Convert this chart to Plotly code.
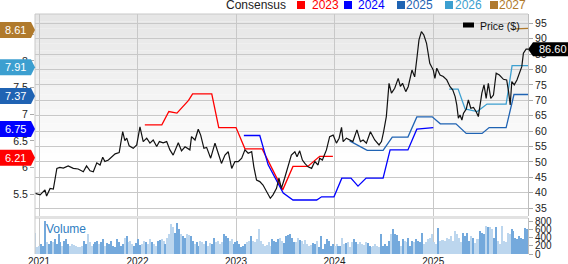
import plotly.graph_objects as go
import pandas as pd
import numpy as np

# ---------------- data ----------------
price_dates = [
    "2020-12-18", "2021-01-05", "2021-01-23", "2021-01-29", "2021-02-11", "2021-02-23", "2021-03-08", "2021-03-19",
    "2021-04-01", "2021-04-19", "2021-05-08", "2021-05-26", "2021-06-14", "2021-06-26", "2021-07-09", "2021-07-21",
    "2021-08-03", "2021-08-15", "2021-08-25", "2021-09-02", "2021-09-15", "2021-10-10", "2021-10-25", "2021-11-07",
    "2021-11-15", "2021-11-22", "2021-12-01", "2021-12-16", "2021-12-29", "2022-01-10", "2022-01-22", "2022-02-04",
    "2022-02-16", "2022-02-28", "2022-03-13", "2022-03-23", "2022-04-06", "2022-04-19", "2022-05-01", "2022-05-13",
    "2022-06-01", "2022-06-13", "2022-06-26", "2022-07-14", "2022-07-20", "2022-08-02", "2022-08-14", "2022-08-23",
    "2022-09-04", "2022-09-14", "2022-09-29", "2022-10-15", "2022-10-27", "2022-11-08", "2022-11-21", "2022-12-03",
    "2022-12-16", "2022-12-28", "2023-01-09", "2023-01-22", "2023-02-03", "2023-02-15", "2023-02-28", "2023-03-08",
    "2023-03-18", "2023-03-30", "2023-04-11", "2023-04-21", "2023-04-30", "2023-05-08", "2023-05-18", "2023-05-31",
    "2023-06-09", "2023-06-18", "2023-06-30", "2023-07-13", "2023-07-25", "2023-08-07", "2023-08-15", "2023-08-25",
    "2023-09-04", "2023-09-13", "2023-09-25", "2023-10-08", "2023-10-20", "2023-11-01", "2023-11-07", "2023-11-17",
    "2023-12-02", "2023-12-14", "2023-12-27", "2024-01-08", "2024-01-18", "2024-01-27", "2024-02-02", "2024-02-14",
    "2024-02-26", "2024-03-09", "2024-03-24", "2024-04-06", "2024-04-16", "2024-04-28", "2024-05-13", "2024-05-29",
    "2024-06-14", "2024-06-23", "2024-07-01", "2024-07-11", "2024-07-21", "2024-07-30", "2024-08-11", "2024-08-24",
    "2024-09-01", "2024-09-09", "2024-09-21", "2024-09-30", "2024-10-14", "2024-10-24", "2024-11-02", "2024-11-09",
    "2024-11-18", "2024-11-27", "2024-12-07", "2024-12-19", "2025-01-01", "2025-01-07", "2025-01-14", "2025-01-26",
    "2025-02-07", "2025-02-20", "2025-03-04", "2025-03-14", "2025-03-23", "2025-03-29", "2025-04-04", "2025-04-10",
    "2025-04-17", "2025-04-23", "2025-05-03", "2025-05-11", "2025-05-20", "2025-05-30", "2025-06-09", "2025-06-17",
    "2025-06-30", "2025-07-08", "2025-07-16", "2025-07-24", "2025-08-02", "2025-08-12", "2025-08-22", "2025-09-03",
    "2025-09-18", "2025-09-30", "2025-10-07", "2025-10-13", "2025-10-19", "2025-10-28", "2025-11-07", "2025-11-17",
    "2025-11-25", "2025-12-01", "2025-12-11", "2025-12-18",
]
price_vals = [
    39.8, 39.3, 40.9, 38.9, 41.4, 41.2, 47.9, 48.2,
    48.0, 48.7, 47.9, 47.7, 46.8, 48.7, 47.1, 46.8,
    49.7, 49.0, 51.5, 50.1, 50.6, 52.6, 53.0, 59.8,
    56.9, 57.7, 55.2, 54.4, 55.5, 61.4, 56.6, 57.7,
    56.1, 57.1, 55.0, 56.6, 56.2, 56.6, 53.9, 52.2,
    56.2, 53.6, 54.9, 53.9, 58.2, 57.1, 60.6, 58.7,
    54.4, 54.7, 51.2, 56.1, 52.8, 49.5, 52.2, 53.3,
    47.9, 50.1, 50.1, 51.2, 53.9, 52.8, 53.3, 48.4,
    44.1, 43.6, 42.5, 40.9, 39.8, 38.2, 39.3, 41.4,
    44.7, 41.4, 44.7, 48.4, 52.2, 53.3, 51.7, 53.6,
    50.6, 49.5, 48.4, 47.9, 50.1, 49.0, 51.2, 50.6,
    53.9, 58.2, 58.7, 56.1, 57.7, 61.2, 56.6, 57.7,
    57.1, 56.6, 60.4, 56.6, 57.1, 56.1, 59.8, 57.1,
    55.5, 56.6, 59.8, 64.7, 75.5, 72.3, 73.9, 77.1,
    74.5, 75.5, 72.8, 74.4, 79.8, 77.6, 84.2, 89.6,
    92.3, 91.2, 88.5, 82.0, 79.8, 77.1, 80.4, 78.2,
    77.7, 76.6, 74.4, 73.4, 71.2, 68.5, 64.2, 65.2,
    63.6, 65.8, 67.1, 70.1, 67.4, 67.7, 66.3, 64.7,
    72.3, 75.0, 70.6, 75.5, 70.6, 71.7, 78.8, 78.2,
    76.8, 76.6, 72.8, 68.5, 76.1, 75.0, 76.6, 79.3,
    80.9, 85.3, 86.6, 86.6,
]

c2023_dates = ["2022-01-28", "2022-04-01", "2022-04-27", "2022-05-27", "2022-07-09", "2022-07-24", "2022-10-03",
               "2022-10-29", "2023-01-01", "2023-02-03", "2023-04-08", "2023-06-23", "2023-07-31", "2023-09-24",
               "2023-11-07", "2023-12-26"]
c2023_vals = [6.80, 6.80, 7.05, 7.02, 7.26, 7.38, 7.38, 6.75, 6.75, 6.35, 6.35, 5.58, 6.02, 6.02, 6.21, 6.21]

c2024_dates = ["2023-01-30", "2023-03-30", "2023-04-30", "2023-06-25", "2023-07-31", "2023-10-27", "2023-11-14",
               "2023-12-30", "2024-01-28", "2024-03-02", "2024-03-28", "2024-04-27", "2024-06-29", "2024-07-25",
               "2024-09-29", "2024-11-01", "2025-01-01"]
c2024_vals = [6.60, 6.60, 6.05, 5.52, 5.39, 5.39, 5.45, 5.45, 5.80, 5.80, 5.65, 5.80, 5.80, 6.33, 6.33, 6.72, 6.75]

c2025_dates = ["2024-02-26", "2024-05-01", "2024-06-29", "2024-08-02", "2024-09-29", "2024-11-01", "2024-12-28",
               "2025-01-27", "2025-03-26", "2025-05-03", "2025-07-01", "2025-07-27", "2025-09-28", "2025-10-27",
               "2025-12-18"]
c2025_vals = [6.50, 6.32, 6.32, 6.57, 6.57, 6.95, 6.95, 6.82, 6.82, 6.64, 6.64, 6.75, 6.75, 7.37, 7.37]

c2026_dates = ["2025-03-01", "2025-04-03", "2025-04-29", "2025-06-13", "2025-07-19", "2025-09-28", "2025-10-20",
               "2025-12-18"]
c2026_vals = [7.47, 7.47, 7.10, 7.05, 7.19, 7.19, 7.91, 7.91]

c2027_dates = ["2025-10-31", "2025-12-18"]
c2027_vals = [8.60, 8.61]

volume_vals = [
    500, 160, 200, 240, 200, 800, 280, 240, 320, 280,
    360, 240, 480, 280, 200, 320, 360, 240, 200, 240,
    225, 200, 160, 180, 200, 320, 240, 480, 280, 200,
    240, 280, 320, 240, 280, 360, 200, 260, 240, 320,
    200, 160, 360, 280, 200, 240, 400, 440, 280, 320,
    240, 200, 260, 360, 225, 240, 320, 280, 240, 360,
    280, 240, 200, 320, 340, 360, 320, 240, 400, 480,
    730, 650, 520, 740, 600, 480, 440, 400, 480, 470,
    440, 320, 240, 280, 200, 320, 280, 240, 320, 200,
    260, 240, 400, 280, 320, 240, 280, 480, 440, 400,
    320, 360, 240, 280, 320, 240, 160, 200, 240, 280,
    320, 440, 320, 280, 360, 600, 320, 240, 200, 225,
    280, 200, 360, 320, 280, 360, 400,
    320, 260, 440, 470, 480, 400, 280, 280, 390, 340,
    320, 240, 340, 240, 200, 225, 260, 240, 320, 160,
    440, 120, 240, 360, 320, 200, 240, 200, 240, 200,
    200, 400, 240, 260, 280, 160, 280, 360, 280, 240,
    280, 240, 225, 300, 260, 200, 160, 200, 240, 200,
    160, 480, 200, 240, 200, 320, 480, 600, 480, 470,
    320, 200, 360, 320, 280, 400, 200, 320, 300, 360,
    320, 280, 520, 240, 280, 360, 400, 480, 280, 240,
    630, 320, 340, 340, 320, 400, 360, 440, 320, 550,
    480, 400, 280, 520, 440, 500, 320, 440, 400, 260,
    360, 360, 560, 520, 480, 690, 650, 650, 600, 400,
    650, 320, 240, 690, 320, 300, 520, 480, 600, 560,
    400, 360, 440, 400, 360, 630, 600,
]
volume_start, volume_end = "2020-12-18", "2025-12-15"

year_ticks = ["2021-01-01", "2022-01-01", "2023-01-01", "2024-01-01", "2025-01-01"]
year_labels = ["2021", "2022", "2023", "2024", "2025"]
price_ticks = [35, 40, 45, 50, 55, 60, 65, 70, 75, 80, 85, 90, 95]
eps_ticks = [5.5, 6, 6.5, 7, 7.5, 8, 8.5]
vol_ticks = [0, 200, 400, 600, 800]
series_names = ["2023", "2024", "2025", "2026", "2027"]
last_eps = [6.21, 6.75, 7.37, 7.91, 8.61]
last_price = 86.60

# ---------------- layout geometry ----------------
W, H = 568, 264
ML, MR, MT, MB = 35, 40, 14, 10
PW = W - ML - MR
PH = H - MT - MB


def px_x(px):
    return (px - ML) / PW


def px_y(py):
    return (H - MB - py) / PH


price_dom = [px_y(216), 1.0]
vol_dom = [0.0, px_y(218)]
price_range = [32.44, 98.0]
eps_range = [5.09, 8.88]
vol_range = [0, 873]
x_range = ["2020-12-17", "2025-12-18"]


def eps_paper(v):
    return price_dom[0] + (v - eps_range[0]) / (eps_range[1] - eps_range[0]) * (price_dom[1] - price_dom[0])


def price_paper(v):
    return price_dom[0] + (v - price_range[0]) / (price_range[1] - price_range[0]) * (price_dom[1] - price_dom[0])


colors = ["#ff0000", "#0000ff", "#1f63b3", "#3c9fd0", "#b07a2c"]
FONT = "Liberation Sans, Arial, sans-serif"

fig = go.Figure()

# volume bars
vol_dates = pd.date_range(volume_start, volume_end, periods=len(volume_vals))
pd_num = pd.to_datetime(pd.Series(price_dates)).astype("int64").to_numpy()
vd_num = pd.Series(vol_dates).astype("int64").to_numpy()
p_at = np.interp(vd_num, pd_num, price_vals)
bar_colors = ["#74a9dc" if (i > 0 and p_at[i] >= p_at[i - 1]) else "#bcd6ee" for i in range(len(volume_vals))]
fig.add_trace(go.Bar(x=vol_dates, y=volume_vals, xaxis="x", yaxis="y3",
                     marker=dict(color=bar_colors, line=dict(width=0)),
                     width=4.4 * 86400000, showlegend=False, hoverinfo="skip"))

# consensus lines (left EPS axis)
for dts, vals, col in [(c2023_dates, c2023_vals, colors[0]), (c2024_dates, c2024_vals, colors[1]),
                       (c2025_dates, c2025_vals, colors[2]), (c2026_dates, c2026_vals, colors[3]),
                       (c2027_dates, c2027_vals, colors[4])]:
    fig.add_trace(go.Scatter(x=dts, y=vals, xaxis="x", yaxis="y", mode="lines",
                             line=dict(color=col, width=1.3), showlegend=False, hoverinfo="skip"))

# price line (right axis)
fig.add_trace(go.Scatter(x=price_dates, y=price_vals, xaxis="x", yaxis="y2", mode="lines",
                         line=dict(color="#111111", width=1.2), showlegend=False, hoverinfo="skip"))

shapes = []
# gradient background
n = 20
gtop, gbot = 14, 160
for i in range(n):
    a = gtop + (gbot - gtop) * i / n
    b = gtop + (gbot - gtop) * (i + 1) / n
    c = int(round(229 + (255 - 229) * (i + 0.5) / n))
    shapes.append(dict(type="rect", xref="paper", yref="paper", x0=0, x1=1, y0=px_y(b), y1=px_y(a),
                       fillcolor=f"rgb({c},{c},{c})", line=dict(width=0), layer="below"))
# panel separator
shapes.append(dict(type="rect", xref="paper", yref="paper", x0=0, x1=1, y0=px_y(219), y1=px_y(216),
                   fillcolor="#e2e2e2", line=dict(width=0), layer="below"))
# frame lines
shapes.append(dict(type="line", xref="paper", yref="paper", x0=0, x1=1, y0=1, y1=1,
                   line=dict(color="#c8c8c8", width=1)))
shapes.append(dict(type="line", xref="paper", yref="paper", x0=0, x1=0, y0=0, y1=1,
                   line=dict(color="#c8c8c8", width=1)))

annotations = []
# left badges
for name, val, col in zip(series_names, last_eps, colors):
    yp = eps_paper(val) - 1.5 / PH
    shapes.append(dict(type="path", xref="paper", yref="paper", xsizemode="pixel", ysizemode="pixel",
                       xanchor=0, yanchor=yp, path="M-35,-8 L-4,-8 L0,0 L-4,8 L-35,8 Z",
                       fillcolor=col, line=dict(width=0), layer="above"))
    annotations.append(dict(xref="paper", yref="paper", x=px_x(3), y=yp, xanchor="left", yanchor="middle",
                            text=f"{val:.2f}", showarrow=False, font=dict(color="white", size=11, family=FONT)))
# right price badge
yp = price_paper(last_price)
shapes.append(dict(type="path", xref="paper", yref="paper", xsizemode="pixel", ysizemode="pixel",
                   xanchor=1, yanchor=yp, path="M0,0 L5,-7 L40,-7 L40,7 L5,7 Z",
                   fillcolor="#000000", line=dict(width=0), layer="above"))
annotations.append(dict(xref="paper", yref="paper", x=px_x(537), y=yp, xanchor="left", yanchor="middle",
                        text=f"{last_price:.2f}", showarrow=False, font=dict(color="white", size=11, family=FONT)))

# top consensus legend
annotations.append(dict(xref="paper", yref="paper", x=px_x(224), y=px_y(5), xanchor="left", yanchor="middle",
                        text="Consensus", showarrow=False, font=dict(color="#222222", size=12, family=FONT)))
sq_x = [297, 344, 397, 445, 490]
tx_x = [310, 356, 404, 453, 497]
for name, col, sx, tx in zip(series_names, colors, sq_x, tx_x):
    shapes.append(dict(type="rect", xref="paper", yref="paper", x0=px_x(sx), x1=px_x(sx + 8),
                       y0=px_y(9), y1=px_y(1), fillcolor=col, line=dict(width=0)))
    annotations.append(dict(xref="paper", yref="paper", x=px_x(tx), y=px_y(5), xanchor="left", yanchor="middle",
                            text=name, showarrow=False, font=dict(color=col, size=12, family=FONT)))

# price legend
shapes.append(dict(type="rect", xref="paper", yref="paper", x0=px_x(463), x1=px_x(474),
                   y0=px_y(27.5), y1=px_y(22.5), fillcolor="#000000", line=dict(width=0)))
annotations.append(dict(xref="paper", yref="paper", x=px_x(478), y=px_y(25.5), xanchor="left", yanchor="middle",
                        text="Price ($)", showarrow=False, font=dict(color="#111111", size=10.5, family=FONT)))
# volume label
annotations.append(dict(xref="paper", yref="paper", x=px_x(44), y=px_y(229), xanchor="left", yanchor="middle",
                        text="Volume", showarrow=False, font=dict(color="#2f7ec2", size=12, family=FONT)))

tickfont = dict(size=10.5, color="#222222", family=FONT)
fig.update_layout(
    width=W, height=H,
    margin=dict(l=ML, r=MR, t=MT, b=MB, pad=0, autoexpand=False),
    paper_bgcolor="white", plot_bgcolor="white",
    font=dict(family=FONT),
    showlegend=False,
    bargap=0,
    xaxis=dict(type="date", range=x_range, anchor="y3", tickvals=year_ticks, ticktext=year_labels,
               showgrid=True, gridcolor="#c8c8c8", gridwidth=1, ticks="", showline=False,
               tickfont=dict(size=10, color="#222222", family=FONT), zeroline=False, automargin=False),
    yaxis=dict(domain=price_dom, range=eps_range, side="left", anchor="x", tickvals=eps_ticks,
               showgrid=False, zeroline=False, ticks="outside", ticklen=4, tickcolor="#aaaaaa",
               showline=False, tickfont=tickfont, automargin=False),
    yaxis2=dict(overlaying="y", range=price_range, side="right", anchor="x", tickvals=price_ticks,
                showgrid=True, gridcolor="#c8c8c8", gridwidth=1, zeroline=False, ticks="outside",
                ticklen=4, tickcolor="#aaaaaa", showline=True, linecolor="#bdbdbd", tickfont=tickfont,
                automargin=False),
    yaxis3=dict(domain=vol_dom, range=vol_range, side="right", anchor="x", tickvals=vol_ticks,
                showgrid=False, zeroline=False, ticks="outside", ticklen=4, tickcolor="#aaaaaa",
                showline=True, linecolor="#bdbdbd", automargin=False,
                tickfont=dict(size=10, color="#222222", family=FONT)),
    shapes=shapes,
    annotations=annotations,
)

fig.write_html("out.html")
